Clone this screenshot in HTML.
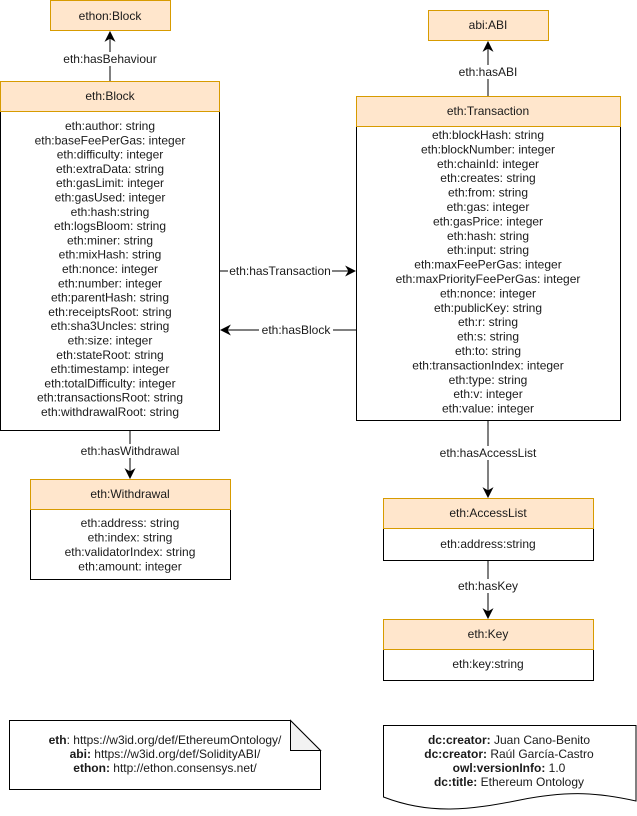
<!DOCTYPE html>
<html><head><meta charset="utf-8"><style>
html,body{margin:0;padding:0;background:#fff;}
svg{display:block;}
text{font-family:"Liberation Sans",Arial,sans-serif;font-size:12px;fill:#1a1a1a;}
</style></head><body>
<svg width="637" height="816" viewBox="0 0 637 816" xmlns="http://www.w3.org/2000/svg">
<defs>
<marker id="ar" viewBox="0 0 10 10" refX="9" refY="5" markerWidth="11" markerHeight="11" orient="auto" markerUnits="userSpaceOnUse">
<path d="M0,0 L10,5 L0,10 L3,5 Z" fill="#000"/>
</marker>
</defs>
<g text-anchor="middle" dominant-baseline="central">

<rect x="50.5" y="0.5" width="120" height="30" fill="#ffe6cc" stroke="#d79b00"/>
<text x="110" y="16">ethon:Block</text>
<line x1="110" y1="81" x2="110" y2="32" stroke="#000" marker-end="url(#ar)"/>
<rect x="60" y="52" width="100" height="14" fill="#fff"/>
<text x="110" y="59">eth:hasBehaviour</text>

<rect x="0.5" y="81.5" width="219" height="349" fill="#fff" stroke="#000"/>
<rect x="0.5" y="81.5" width="219" height="30" fill="#ffe6cc" stroke="#d79b00"/>
<text x="110" y="96">eth:Block</text>
<text x="110" y="126">eth:author: string</text>
<text x="110" y="140.3">eth:baseFeePerGas: integer</text>
<text x="110" y="154.6">eth:difficulty: integer</text>
<text x="110" y="168.9">eth:extraData: string</text>
<text x="110" y="183.2">eth:gasLimit: integer</text>
<text x="110" y="197.5">eth:gasUsed: integer</text>
<text x="110" y="211.8">eth:hash:string</text>
<text x="110" y="226.1">eth:logsBloom: string</text>
<text x="110" y="240.4">eth:miner: string</text>
<text x="110" y="254.7">eth:mixHash: string</text>
<text x="110" y="269">eth:nonce: integer</text>
<text x="110" y="283.3">eth:number: integer</text>
<text x="110" y="297.6">eth:parentHash: string</text>
<text x="110" y="311.9">eth:receiptsRoot: string</text>
<text x="110" y="326.2">eth:sha3Uncles: string</text>
<text x="110" y="340.5">eth:size: integer</text>
<text x="110" y="354.8">eth:stateRoot: string</text>
<text x="110" y="369.1">eth:timestamp: integer</text>
<text x="110" y="383.4">eth:totalDifficulty: integer</text>
<text x="110" y="397.7">eth:transactionsRoot: string</text>
<text x="110" y="412">eth:withdrawalRoot: string</text>

<rect x="428.5" y="10.5" width="120" height="30" fill="#ffe6cc" stroke="#d79b00"/>
<text x="488" y="25">abi:ABI</text>
<line x1="488" y1="96" x2="488" y2="42" stroke="#000" marker-end="url(#ar)"/>
<rect x="455" y="65" width="66" height="14" fill="#fff"/>
<text x="488" y="72">eth:hasABI</text>

<rect x="356.5" y="96.5" width="264" height="324" fill="#fff" stroke="#000"/>
<rect x="356.5" y="96.5" width="264" height="30" fill="#ffe6cc" stroke="#d79b00"/>
<text x="488" y="111">eth:Transaction</text>
<text x="488" y="135">eth:blockHash: string</text>
<text x="488" y="149.4">eth:blockNumber: integer</text>
<text x="488" y="163.8">eth:chainId: integer</text>
<text x="488" y="178.2">eth:creates: string</text>
<text x="488" y="192.6">eth:from: string</text>
<text x="488" y="207">eth:gas: integer</text>
<text x="488" y="221.4">eth:gasPrice: integer</text>
<text x="488" y="235.8">eth:hash: string</text>
<text x="488" y="250.2">eth:input: string</text>
<text x="488" y="264.6">eth:maxFeePerGas: integer</text>
<text x="488" y="279">eth:maxPriorityFeePerGas: integer</text>
<text x="488" y="293.4">eth:nonce: integer</text>
<text x="488" y="307.8">eth:publicKey: string</text>
<text x="488" y="322.2">eth:r: string</text>
<text x="488" y="336.6">eth:s: string</text>
<text x="488" y="351">eth:to: string</text>
<text x="488" y="365.4">eth:transactionIndex: integer</text>
<text x="488" y="379.8">eth:type: string</text>
<text x="488" y="394.2">eth:v: integer</text>
<text x="488" y="408.6">eth:value: integer</text>

<line x1="220" y1="271" x2="355" y2="271" stroke="#000" marker-end="url(#ar)"/>
<rect x="228" y="264" width="104" height="14" fill="#fff"/>
<text x="280" y="271">eth:hasTransaction</text>
<line x1="356" y1="330" x2="221" y2="330" stroke="#000" marker-end="url(#ar)"/>
<rect x="259" y="323" width="74" height="14" fill="#fff"/>
<text x="296" y="330">eth:hasBlock</text>

<line x1="130" y1="431" x2="130" y2="478" stroke="#000" marker-end="url(#ar)"/>
<rect x="82" y="444" width="96" height="14" fill="#fff"/>
<text x="130" y="451">eth:hasWithdrawal</text>

<rect x="30.5" y="479.5" width="200" height="100" fill="#fff" stroke="#000"/>
<rect x="30.5" y="479.5" width="200" height="30" fill="#ffe6cc" stroke="#d79b00"/>
<text x="130" y="494">eth:Withdrawal</text>
<text x="130" y="523">eth:address: string</text>
<text x="130" y="537.5">eth:index: string</text>
<text x="130" y="552">eth:validatorIndex: string</text>
<text x="130" y="566.5">eth:amount: integer</text>

<line x1="488" y1="421" x2="488" y2="497" stroke="#000" marker-end="url(#ar)"/>
<rect x="440" y="446" width="96" height="14" fill="#fff"/>
<text x="488" y="453">eth:hasAccessList</text>

<rect x="383.5" y="498.5" width="210" height="62" fill="#fff" stroke="#000"/>
<rect x="383.5" y="498.5" width="210" height="30" fill="#ffe6cc" stroke="#d79b00"/>
<text x="488" y="513">eth:AccessList</text>
<text x="488" y="544">eth:address:string</text>

<line x1="488" y1="561" x2="488" y2="618" stroke="#000" marker-end="url(#ar)"/>
<rect x="455" y="579" width="66" height="14" fill="#fff"/>
<text x="488" y="586">eth:hasKey</text>

<rect x="383.5" y="619.5" width="210" height="61" fill="#fff" stroke="#000"/>
<rect x="383.5" y="619.5" width="210" height="30" fill="#ffe6cc" stroke="#d79b00"/>
<text x="488" y="634">eth:Key</text>
<text x="488" y="664">eth:key:string</text>

<path d="M9.5,720.5 H290.5 L320.5,750.5 V789.5 H9.5 Z" fill="#fff" stroke="#000"/>
<path d="M290.5,720.5 V750.5 H320.5 Z" fill="#f2f2f2" stroke="#000"/>
<text x="165" y="740"><tspan font-weight="bold">eth</tspan>: https://w3id.org/def/EthereumOntology/</text>
<text x="165" y="754"><tspan font-weight="bold">abi:</tspan> https://w3id.org/def/SolidityABI/</text>
<text x="165" y="768"><tspan font-weight="bold">ethon:</tspan> http://ethon.consensys.net/</text>

<path d="M383.5,725.5 H636 V801 C600,793 570,790 520,800 C470,810 430,815 383.5,797 Z" fill="#fff" stroke="#000"/>
<text x="509" y="740"><tspan font-weight="bold">dc:creator:</tspan> Juan Cano-Benito</text>
<text x="509" y="754"><tspan font-weight="bold">dc:creator:</tspan> Raúl García-Castro</text>
<text x="509" y="768"><tspan font-weight="bold">owl:versionInfo:</tspan> 1.0</text>
<text x="509" y="782"><tspan font-weight="bold">dc:title:</tspan> Ethereum Ontology</text>
</g>
</svg>
</body></html>
